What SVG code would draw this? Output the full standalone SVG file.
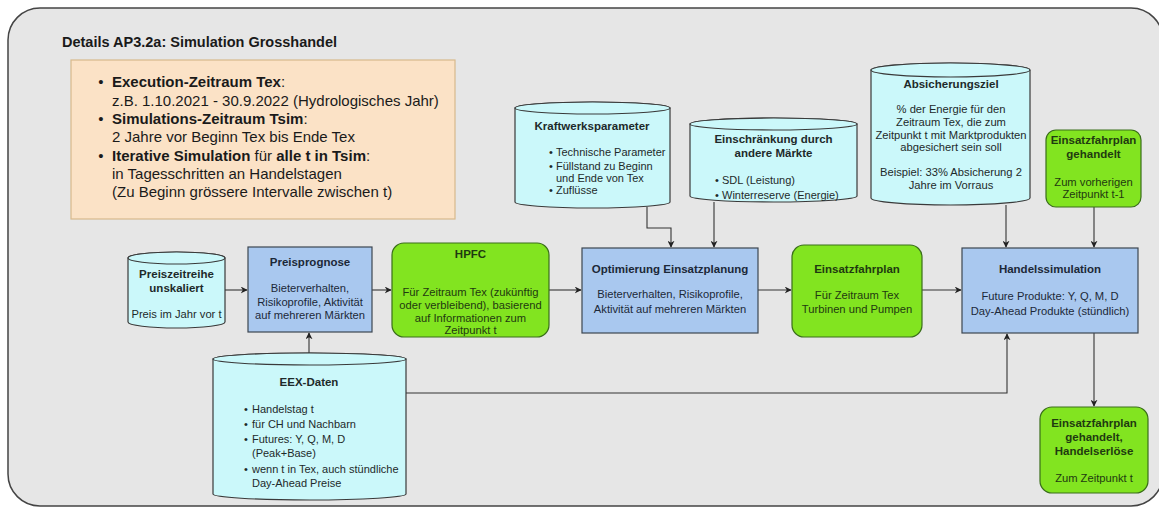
<svg xmlns="http://www.w3.org/2000/svg" width="1159" height="508" viewBox="0 0 1159 508">
<style>
text{font-family:"Liberation Sans",Arial,sans-serif;}
.t{font-size:11.5px;font-weight:bold;text-anchor:middle;}
.b{font-size:11.2px;text-anchor:middle;}
.l{font-size:11px;}
.cyl{fill:#cbf8fa;stroke:#3a3a3a;stroke-width:1.2;}
.blue{fill:#a9c8ef;stroke:#3d4650;stroke-width:1.2;}
.green{fill:#82e420;stroke:#3a6e1a;stroke-width:1.2;}
.cyt{fill:#1e2a2a;}
.blt{fill:#1c2838;}
.grt{fill:#1f3a10;}
.c{fill:none;stroke:#333;stroke-width:1.1;marker-end:url(#ah);}
</style>
<defs>
<marker id="ah" viewBox="0 0 10 10" refX="9" refY="5" markerWidth="7" markerHeight="7" markerUnits="userSpaceOnUse" orient="auto"><path d="M0,0 L10,5 L0,10 L3,5 Z" fill="#222"/></marker>
</defs>
<rect x="0" y="0" width="1159" height="508" fill="#ffffff"/>
<rect id="container" x="8" y="8" width="1155" height="498" rx="32" ry="32" fill="#e6e6e6" stroke="#444" stroke-width="1.5"/>
<text x="62" y="47" font-size="14.5" font-weight="bold" fill="#1a1a1a">Details AP3.2a: Simulation Grosshandel</text>

<g id="info">
<rect x="71" y="60" width="384" height="159" fill="#fbe2c6" stroke="#d8b98c" stroke-width="1.2"/>
<g font-size="15" fill="#1a1a1a">
<text x="101" y="87" text-anchor="middle">•</text>
<text x="112" y="87"><tspan font-weight="bold">Execution-Zeitraum Tex</tspan>:</text>
<text x="112" y="105.5">z.B. 1.10.2021 - 30.9.2022 (Hydrologisches Jahr)</text>
<text x="101" y="124" text-anchor="middle">•</text>
<text x="112" y="124"><tspan font-weight="bold">Simulations-Zeitraum Tsim</tspan>:</text>
<text x="112" y="142">2 Jahre vor Beginn Tex bis Ende Tex</text>
<text x="101" y="160.5" text-anchor="middle">•</text>
<text x="112" y="160.5"><tspan font-weight="bold">Iterative Simulation</tspan> für <tspan font-weight="bold">alle t in Tsim</tspan>:</text>
<text x="112" y="178.5">in Tagesschritten an Handelstagen</text>
<text x="112" y="196.5">(Zu Beginn grössere Intervalle zwischen t)</text>
</g>
</g>

<g id="connectors">
<path class="c" d="M225,290 H247"/>
<path class="c" d="M372,290 H391"/>
<path class="c" d="M549,290 H581"/>
<path class="c" d="M758,290 H791"/>
<path class="c" d="M922,290 H961"/>
<path class="c" d="M647,207 V228 H671 V247"/>
<path class="c" d="M714,202 V247"/>
<path class="c" d="M1006,205 V247"/>
<path class="c" d="M1094,207 V247"/>
<path class="c" d="M309,353 V333"/>
<path class="c" d="M406,393 H1007 V334"/>
<path class="c" d="M1094,333 V406"/>
</g>

<g id="preiszeitreihe">
<path class="cyl" d="M128,258 V322 A48.5,6 0 0 0 225,322 V258 A48.5,6 0 0 0 128,258 Z"/>
<ellipse class="cyl" cx="176.5" cy="258" rx="48.5" ry="6"/>
<text class="t cyt" x="176.5" y="278">Preiszeitreihe</text>
<text class="t cyt" x="176.5" y="292">unskaliert</text>
<text class="b cyt" x="176.5" y="318">Preis im Jahr vor t</text>
</g>

<g id="preisprognose">
<rect class="blue" x="248" y="247" width="124" height="85"/>
<text class="t blt" x="310" y="266">Preisprognose</text>
<text class="b blt" x="310" y="292" font-size="11.7">Bieterverhalten,</text>
<text class="b blt" x="310" y="305.5" font-size="11.7">Risikoprofile, Aktivität</text>
<text class="b blt" x="310" y="319" font-size="11.7">auf mehreren Märkten</text>
</g>

<g id="hpfc">
<rect class="green" x="392" y="243" width="157" height="94" rx="12" ry="12"/>
<text class="t grt" x="470.5" y="258">HPFC</text>
<text class="b grt" x="470.5" y="296" font-size="11.5">Für Zeitraum Tex (zukünftig</text>
<text class="b grt" x="470.5" y="309" font-size="11.5">oder verbleibend), basierend</text>
<text class="b grt" x="470.5" y="322" font-size="11.5">auf Informationen zum</text>
<text class="b grt" x="470.5" y="334" font-size="11.5">Zeitpunkt t</text>
</g>

<g id="optimierung">
<rect class="blue" x="582" y="248" width="176" height="85"/>
<text class="t blt" x="670" y="273">Optimierung Einsatzplanung</text>
<text class="b blt" x="670" y="298" font-size="12.2">Bieterverhalten, Risikoprofile,</text>
<text class="b blt" x="670" y="313" font-size="12.2">Aktivität auf mehreren Märkten</text>
</g>

<g id="einsatzfahrplan">
<rect class="green" x="792" y="245" width="130" height="92" rx="12" ry="12"/>
<text class="t grt" x="857" y="273">Einsatzfahrplan</text>
<text class="b grt" x="857" y="299" font-size="12.2">Für Zeitraum Tex</text>
<text class="b grt" x="857" y="313" font-size="12.2">Turbinen und Pumpen</text>
</g>

<g id="handelssimulation">
<rect class="blue" x="962" y="248" width="176" height="85"/>
<text class="t blt" x="1050" y="273">Handelssimulation</text>
<text class="b blt" x="1050" y="300">Future Produkte: Y, Q, M, D</text>
<text class="b blt" x="1050" y="314.5">Day-Ahead Produkte (stündlich)</text>
</g>

<g id="kraftwerksparameter">
<path class="cyl" d="M515,108 V202 A77.5,6 0 0 0 670,202 V108 A77.5,6 0 0 0 515,108 Z"/>
<ellipse class="cyl" cx="592.5" cy="108" rx="77.5" ry="6"/>
<text class="t cyt" x="592" y="130">Kraftwerksparameter</text>
<g class="l cyt">
<text x="551" y="156" text-anchor="middle">•</text><text x="556" y="156">Technische Parameter</text>
<text x="551" y="170" text-anchor="middle">•</text><text x="556" y="170">Füllstand zu Beginn</text>
<text x="556" y="181.5">und Ende von Tex</text>
<text x="551" y="194" text-anchor="middle">•</text><text x="556" y="194">Zuflüsse</text>
</g>
</g>

<g id="einschraenkung">
<path class="cyl" d="M690,124 V196 A83.5,6 0 0 0 857,196 V124 A83.5,6 0 0 0 690,124 Z"/>
<ellipse class="cyl" cx="773.5" cy="124" rx="83.5" ry="6"/>
<text class="t cyt" x="773.5" y="143">Einschränkung durch</text>
<text class="t cyt" x="773.5" y="157">andere Märkte</text>
<g class="l cyt">
<text x="717" y="184" text-anchor="middle">•</text><text x="722" y="184">SDL (Leistung)</text>
<text x="717" y="199" text-anchor="middle">•</text><text x="722" y="199">Winterreserve (Energie)</text>
</g>
</g>

<g id="absicherungsziel">
<path class="cyl" d="M871,70 V198 A79.5,7 0 0 0 1030,198 V70 A79.5,7 0 0 0 871,70 Z"/>
<ellipse class="cyl" cx="950.5" cy="70" rx="79.5" ry="7"/>
<text class="t cyt" x="951" y="88">Absicherungsziel</text>
<text class="b cyt" x="951" y="113">% der Energie für den</text>
<text class="b cyt" x="951" y="126">Zeitraum Tex, die zum</text>
<text class="b cyt" x="951" y="138.5">Zeitpunkt t mit Marktprodukten</text>
<text class="b cyt" x="951" y="151">abgesichert sein soll</text>
<text class="b cyt" x="951" y="176">Beispiel: 33% Absicherung 2</text>
<text class="b cyt" x="951" y="188.5">Jahre im Vorraus</text>
</g>

<g id="gehandelt_vorher">
<rect class="green" x="1046" y="130" width="95" height="77" rx="10" ry="10"/>
<text class="t grt" x="1093.5" y="144">Einsatzfahrplan</text>
<text class="t grt" x="1093.5" y="157.5">gehandelt</text>
<text class="b grt" x="1093.5" y="186">Zum vorherigen</text>
<text class="b grt" x="1093.5" y="198">Zeitpunkt t-1</text>
</g>

<g id="gehandelt_erloese">
<rect class="green" x="1040" y="407" width="108" height="86" rx="12" ry="12"/>
<text class="t grt" x="1094" y="427" font-size="12">Einsatzfahrplan</text>
<text class="t grt" x="1094" y="441" font-size="12">gehandelt,</text>
<text class="t grt" x="1094" y="455" font-size="12">Handelserlöse</text>
<text class="b grt" x="1094" y="482">Zum Zeitpunkt t</text>
</g>

<g id="eex">
<path class="cyl" d="M213,359 V494 A96.5,6 0 0 0 406,494 V359 A96.5,6 0 0 0 213,359 Z"/>
<ellipse class="cyl" cx="309.5" cy="359" rx="96.5" ry="6"/>
<text class="t cyt" x="309" y="386">EEX-Daten</text>
<g class="l cyt">
<text x="246" y="413" text-anchor="middle">•</text><text x="252" y="413">Handelstag t</text>
<text x="246" y="428" text-anchor="middle">•</text><text x="252" y="428">für CH und Nachbarn</text>
<text x="246" y="443" text-anchor="middle">•</text><text x="252" y="443">Futures: Y, Q, M, D</text>
<text x="252" y="457">(Peak+Base)</text>
<text x="246" y="473" text-anchor="middle">•</text><text x="252" y="473">wenn t in Tex, auch stündliche</text>
<text x="252" y="487">Day-Ahead Preise</text>
</g>
</g>
</svg>
